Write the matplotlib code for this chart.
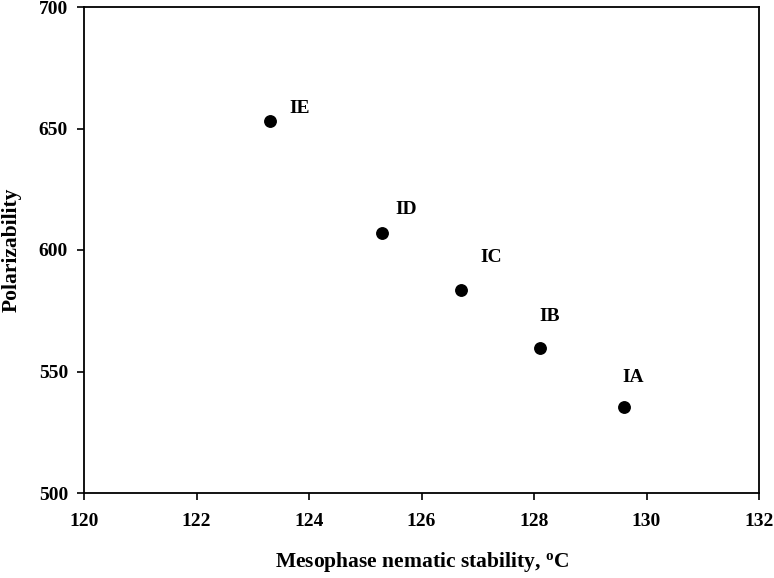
import matplotlib
matplotlib.use("Agg")
import matplotlib.pyplot as plt

plt.rcParams['font.family'] = ['Liberation Serif', 'DejaVu Serif']
plt.rcParams['font.weight'] = 'bold'
plt.rcParams['mathtext.fontset'] = 'custom'
plt.rcParams['mathtext.rm'] = 'Liberation Serif:bold'
plt.rcParams['mathtext.bf'] = 'Liberation Serif:bold'
plt.rcParams['mathtext.it'] = 'Liberation Serif:bold'

# Data
compounds = ['IE', 'ID', 'IC', 'IB', 'IA']
stability = [123.3, 125.3, 126.7, 128.1, 129.6]
polarizability = [653, 607, 583.5, 559.5, 535.5]
x_ticks = [120, 122, 124, 126, 128, 130, 132]
y_ticks = [500, 550, 600, 650, 700]

# label offsets (points), layout only
label_offsets = [(14.4, 6), (9.4, 13.7), (14.4, 20), (0, 20), (-1.4, 18)]

fig = plt.figure(figsize=(7.74, 5.78), dpi=100)
ax = fig.add_axes([84/774, 1-493/578, (759-84)/774, (493-7)/578])

ax.scatter(stability, polarizability, s=68, color='black', zorder=3)
for name, x, y, off in zip(compounds, stability, polarizability, label_offsets):
    ax.annotate(name, (x, y), xytext=off, textcoords='offset points',
                ha='left', va='baseline', fontsize=14, fontweight='bold')

ax.set_xlim(120, 132)
ax.set_ylim(500, 700)
ax.set_xticks(x_ticks)
ax.set_yticks(y_ticks)
ax.tick_params(direction='out', length=5, width=1.2, labelsize=14)
ax.tick_params(axis='x', pad=9.5)
ax.tick_params(axis='y', pad=6.5)
for lab in ax.get_xticklabels() + ax.get_yticklabels():
    lab.set_fontweight('bold')
for sp in ax.spines.values():
    sp.set_linewidth(1.3)

ax.set_xlabel('Mesophase nematic stability, $^{\\mathrm{o}}$C', fontsize=15.5, fontweight='bold', labelpad=14)
ax.set_ylabel('Polarizability', fontsize=15.5, fontweight='bold', labelpad=12)

fig.savefig('out.png', dpi=100)
